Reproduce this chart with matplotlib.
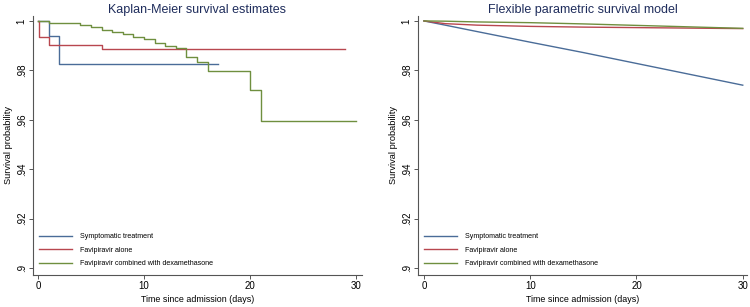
import matplotlib
matplotlib.use("Agg")
import matplotlib.pyplot as plt
import numpy as np

plt.rcParams['font.family'] = ['Liberation Sans', 'DejaVu Sans']

# ---- data ----
series_names = ["Symptomatic treatment", "Favipiravir alone", "Favipiravir combined with dexamethasone"]
colors = ["#4a6c98", "#b8474f", "#6f8f3f"]

# Kaplan-Meier step data (time, survival)
km_sym_t = [0, 1, 2, 17]
km_sym_s = [1.0, 0.9941, 0.9826, 0.9826]
km_fav_t = [0, 0.1, 1, 6, 29]
km_fav_s = [1.0, 0.9933, 0.9903, 0.9888, 0.9888]
km_dex_t = [0, 1, 4, 5, 6, 7, 8, 9, 10, 11, 12, 13, 14, 15, 16, 20, 21, 30]
km_dex_s = [1.0, 0.9993, 0.9983, 0.9975, 0.9965, 0.9955, 0.9946, 0.9936, 0.9926,
            0.9910, 0.9899, 0.9891, 0.9856, 0.9832, 0.9798, 0.9721, 0.9593, 0.9593]

# Flexible parametric model predictions
fp_t = [0, 2, 5, 10, 15, 20, 25, 30]
fp_sym = [1.0, 0.9983, 0.9957, 0.9914, 0.9872, 0.9828, 0.9784, 0.9740]
fp_fav = [1.0, 0.9989, 0.9983, 0.9978, 0.9975, 0.9973, 0.9971, 0.9969]
fp_dex = [1.0, 0.9999, 0.9996, 0.9993, 0.9988, 0.9982, 0.9976, 0.9970]

titles = ["Kaplan-Meier survival estimates", "Flexible parametric survival model"]
xlabel = "Time since admission (days)"
ylabel = "Survival probability"
xticks = [0, 10, 20, 30]
yticks = [0.9, 0.92, 0.94, 0.96, 0.98, 1.0]
ytick_labels = [".9", ".92", ".94", ".96", ".98", "1"]

W, H = 750, 307
fig = plt.figure(figsize=(W / 100, H / 100), dpi=100)

def make_ax(x0, x1, xlim):
    ax = fig.add_axes([x0 / W, (H - 275) / H, (x1 - x0) / W, (275 - 16) / H])
    ax.set_xlim(*xlim)
    ax.set_ylim(0.89717, 1.0020)
    for s in ["top", "right"]:
        ax.spines[s].set_visible(False)
    for s in ["left", "bottom"]:
        ax.spines[s].set_color("#555555")
        ax.spines[s].set_linewidth(0.8)
    ax.set_xticks(xticks)
    ax.set_xticklabels([str(v) for v in xticks], fontsize=7)
    ax.set_yticks(yticks)
    ax.set_yticklabels(ytick_labels, fontsize=7, rotation=90, va="center")
    ax.tick_params(direction="out", length=3, width=0.7, color="#555555", pad=1.5)
    ax.set_xlabel(xlabel, fontsize=6.4, labelpad=3)
    ax.set_ylabel(ylabel, fontsize=6.7, labelpad=3)
    return ax

ax1 = make_ax(33, 362, (-0.47, 30.57))
ax2 = make_ax(418, 747, (-0.56, 30.4))

lw = 1.0
ax1.step(km_sym_t, km_sym_s, where="post", color=colors[0], lw=lw, label=series_names[0])
ax1.step(km_fav_t, km_fav_s, where="post", color=colors[1], lw=lw, label=series_names[1])
ax1.step(km_dex_t, km_dex_s, where="post", color=colors[2], lw=lw, label=series_names[2])

ax2.plot(fp_t, fp_sym, color=colors[0], lw=lw, label=series_names[0])
ax2.plot(fp_t, fp_fav, color=colors[1], lw=lw, label=series_names[1])
ax2.plot(fp_t, fp_dex, color=colors[2], lw=lw, label=series_names[2])

for ax, title in zip([ax1, ax2], titles):
    ax.set_title(title, fontsize=9, color="#1f2d5c", pad=2)
    leg = ax.legend(loc="lower left", bbox_to_anchor=(6 / 329, 8 / 259), frameon=False,
                    fontsize=5.1, handlelength=4.66, handletextpad=1.13,
                    labelspacing=0.9, borderaxespad=0, borderpad=0)

fig.savefig("out.png", dpi=100)
